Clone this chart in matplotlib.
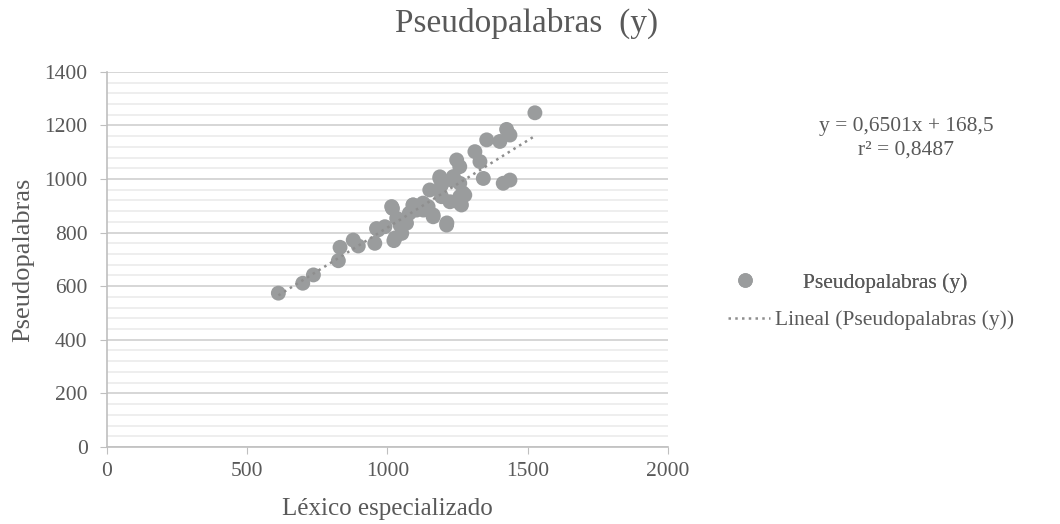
import numpy as np
import matplotlib.pyplot as plt
from matplotlib.lines import Line2D
from matplotlib.ticker import MultipleLocator

# Léxico especializado (x) vs Pseudopalabras (y)
lexico = [611, 698, 736, 825, 831, 878, 896, 955, 967, 991, 1018, 1023, 1033, 1045,
          1051, 1068, 1078, 1092, 1104, 1128, 1145, 1163, 1151, 1187, 1193, 1211,
          1193, 1223, 1247, 1258, 1235, 1258, 1258, 1264, 1276, 1312, 1330, 1342,
          1354, 1401, 1425, 1437, 1413, 1437, 1526,
          961, 1015, 1027, 1056, 1091, 1127, 1163, 1187, 1212, 1230, 1258, 1269]
pseudo = [574, 611, 642, 695, 745, 772, 750, 760, 810, 822, 890, 770, 853, 828,
          797, 835, 872, 903, 884, 884, 897, 859, 959, 1002, 978, 828,
          934, 915, 1071, 1046, 1009, 984, 934, 903, 940, 1102, 1065, 1002,
          1146, 1140, 1185, 1164, 984, 996, 1247,
          815, 897, 780, 847, 903, 910, 866, 1008, 836, 996, 910, 948]

slope, intercept, r2 = 0.6501, 168.5, 0.8487

plt.rcParams['font.family'] = ['Liberation Serif', 'DejaVu Serif']
txt = '#595959'
pt = '#9a9c9d'
trend = '#8e8e8e'
dots = (0, (1, 1.7))

fig = plt.figure(figsize=(10.6, 5.24), dpi=100)
ax = fig.add_axes([0.101, 0.147, 0.529, 0.716])

ax.scatter(lexico, pseudo, s=115, color=pt, edgecolors='none', zorder=3)
xs = np.array([min(lexico), max(lexico)])
ax.plot(xs, slope * xs + intercept, color=trend, linestyle=dots,
        linewidth=1.8, zorder=4)

ax.set_xlim(0, 2000)
ax.set_ylim(0, 1400)
ax.xaxis.set_major_locator(MultipleLocator(500))
ax.yaxis.set_major_locator(MultipleLocator(200))
ax.yaxis.set_minor_locator(MultipleLocator(40))
ax.grid(axis='y', which='major', color='#d0d0d0', linewidth=1.2)
ax.grid(axis='y', which='minor', color='#ebebeb', linewidth=1.2)
ax.set_axisbelow(True)
for s in ['top', 'right']:
    ax.spines[s].set_visible(False)
for s in ['left', 'bottom']:
    ax.spines[s].set_color('#bfbfbf')
    ax.spines[s].set_linewidth(1.2)
ax.tick_params(which='major', color='#bfbfbf', length=5, direction='out',
               labelsize=15.5, labelcolor=txt)
ax.tick_params(axis='y', pad=9)
ax.tick_params(axis='x', pad=6)
ax.tick_params(which='minor', length=0)

ax.set_xlabel('Léxico especializado', fontsize=18, color=txt, labelpad=12)
ax.set_ylabel('Pseudopalabras', fontsize=19, color=txt, labelpad=7)
fig.text(0.497, 0.955, 'Pseudopalabras  (y)', ha='center', va='center',
         fontsize=24, color=txt)

eq = f'y = {slope:.4f}x + {intercept:.1f}'.replace('.', ',')
rr = f'r² = {r2:.4f}'.replace('.', ',')
fig.text(0.855, 0.758, eq, ha='center', va='center', fontsize=15.5, color=txt)
fig.text(0.855, 0.714, rr, ha='center', va='center', fontsize=15.5, color=txt)

h1 = Line2D([], [], marker='o', linestyle='none', markersize=10.5,
            markerfacecolor=pt, markeredgecolor='none')
h2 = Line2D([], [], color=trend, linestyle=dots, linewidth=1.8)
leg1 = fig.legend([h1], ['Pseudopalabras (y)'], loc='center left',
                  bbox_to_anchor=(0.6825, 0.46), frameon=False, fontsize=15.5,
                  labelcolor=txt, handlelength=2, handletextpad=1.7,
                  borderpad=0, borderaxespad=0)
fig.legend([h2], ['Lineal (Pseudopalabras (y))'], loc='center left',
           bbox_to_anchor=(0.6868, 0.389), frameon=False, fontsize=15.5,
           labelcolor=txt, handlelength=1.95, handletextpad=0.23,
           borderpad=0, borderaxespad=0)
fig.add_artist(leg1)

fig.savefig('out.png', dpi=100)
